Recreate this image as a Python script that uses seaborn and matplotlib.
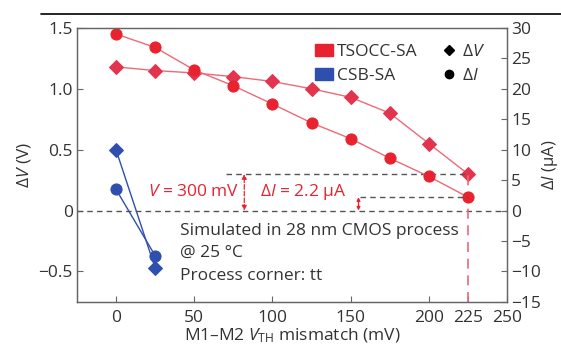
import numpy as np
import pandas as pd
import seaborn as sns
import matplotlib.pyplot as plt
from matplotlib.lines import Line2D
from matplotlib.patches import Patch

# data
mismatch = [0, 25, 50, 75, 100, 125, 150, 175, 200, 225]
tsocc_dv = [1.18, 1.15, 1.13, 1.10, 1.06, 1.00, 0.93, 0.80, 0.55, 0.30]   # V
tsocc_di = [29.0, 26.8, 23.1, 20.5, 17.5, 14.4, 11.8, 8.6, 5.6, 2.2]     # uA
csb_x = [0, 25]
csb_dv = [0.50, -0.47]
csb_di = [3.5, -7.4]
xticks = [0, 50, 100, 150, 200, 225, 250]

RED = '#e8232f'
RED_LINE = '#ec6a76'
BLUE = '#2e4fae'
FS = 12.5

sns.set_style('ticks')
plt.rcParams['font.family'] = ['Open Sans', 'DejaVu Sans']
plt.rcParams['font.size'] = FS
plt.rcParams['mathtext.fontset'] = 'custom'
plt.rcParams['mathtext.it'] = 'Open Sans:italic'
plt.rcParams['mathtext.rm'] = 'Open Sans'

fig = plt.figure(figsize=(5.61, 3.49), dpi=100)
ax = fig.add_axes([0.137, 0.135, 0.767, 0.785])
ax2 = ax.twinx()

df_v = pd.DataFrame({'x': mismatch, 'y': tsocc_dv})
df_i = pd.DataFrame({'x': mismatch, 'y': tsocc_di})

sns.lineplot(data=df_v, x='x', y='y', ax=ax, color=RED_LINE, lw=1.0,
             marker='D', markersize=7, markerfacecolor='#e3344f',
             markeredgecolor='#e3344f')
sns.lineplot(x=csb_x, y=csb_dv, ax=ax, color=BLUE, lw=1.0,
             marker='D', markersize=7, markerfacecolor=BLUE, markeredgecolor=BLUE)
sns.lineplot(data=df_i, x='x', y='y', ax=ax2, color=RED_LINE, lw=1.0,
             marker='o', markersize=8, markerfacecolor=RED, markeredgecolor=RED)
sns.lineplot(x=csb_x, y=csb_di, ax=ax2, color=BLUE, lw=1.0,
             marker='o', markersize=8, markerfacecolor=BLUE, markeredgecolor=BLUE)

ax.set_xlim(-25, 250)
ax.set_ylim(-0.75, 1.5)
ax2.set_ylim(-15, 30)
ax.set_xticks(xticks)
ax.set_yticks([-0.5, 0, 0.5, 1.0, 1.5])
ax.set_yticklabels(['\u22120.5', '0', '0.5', '1.0', '1.5'])
ax2.set_yticks([-15, -10, -5, 0, 5, 10, 15, 20, 25, 30])
ax2.set_yticklabels(['\u221215', '\u221210', '\u22125', '0', '5', '10', '15', '20', '25', '30'])

for a in (ax, ax2):
    a.tick_params(direction='in', length=4, width=0.8, colors='#666666',
                  labelcolor='#333333', labelsize=FS, pad=3)
    for s in a.spines.values():
        s.set_color('#666666')
        s.set_linewidth(0.9)
ax.tick_params(axis='x', pad=6)

ax.set_xlabel('M1\u2013M2 $V_{\\mathrm{TH}}$ mismatch (mV)', color='#333333', fontsize=12.5, labelpad=0)
ax.set_ylabel('$\\Delta V$ (V)', color='#333333', fontsize=12.5, labelpad=4)
ax2.set_ylabel('$\\Delta I$ (\u03bcA)', color='#333333', fontsize=12, labelpad=-1)

# reference lines
ax.axhline(0, color='#555555', lw=1.0, ls=(0, (4, 3)))
ax.plot([70, 225], [0.30, 0.30], color='#555555', lw=1.0, ls=(0, (4, 3)))
ax2.plot([156, 225], [2.2, 2.2], color='#555555', lw=1.0, ls=(0, (4, 3)))
ax.plot([225, 225], [-0.75, 0.30], color=RED_LINE, lw=1.2, ls=(0, (6, 4)))

# arrows
ax.annotate('', xy=(82, 0.30), xytext=(82, 0.0),
            arrowprops=dict(arrowstyle='<|-|>', color=RED, lw=0.9, ls='--',
                            mutation_scale=7, shrinkA=0, shrinkB=0))
ax2.annotate('', xy=(155, 2.2), xytext=(155, 0.0),
             arrowprops=dict(arrowstyle='<|-|>', color=RED, lw=0.9,
                             mutation_scale=5, shrinkA=0, shrinkB=0))
ax.text(78.5, 0.155, '$V$ = 300 mV', color=RED, fontsize=FS, ha='right', va='center')
ax.text(92, 0.155, '$\\Delta I$ = 2.2 \u03bcA', color=RED, fontsize=FS, ha='left', va='center')

ax.text(41, -0.35, 'Simulated in 28 nm CMOS process\n@ 25 \u00b0C\nProcess corner: tt',
        color='#333333', fontsize=FS, ha='left', va='center', linespacing=1.55)

handles = [Patch(color=RED, label='TSOCC-SA'),
           Patch(color=BLUE, label='CSB-SA'),
           Line2D([], [], ls='none', marker='D', color='black', markersize=5, label='$\\Delta V$'),
           Line2D([], [], ls='none', marker='o', color='black', markersize=6, label='$\\Delta I$')]
ax.legend(handles=handles, ncol=2, frameon=False, loc='upper right',
          bbox_to_anchor=(0.985, 1.0), fontsize=FS, handlelength=1.0,
          handletextpad=0.25, columnspacing=1.3, labelspacing=0.45, labelcolor='#333333')

fig.add_artist(Line2D([0.073, 1.0], [0.96, 0.96], color='black', lw=1.2))

fig.savefig('out.png', dpi=100)
